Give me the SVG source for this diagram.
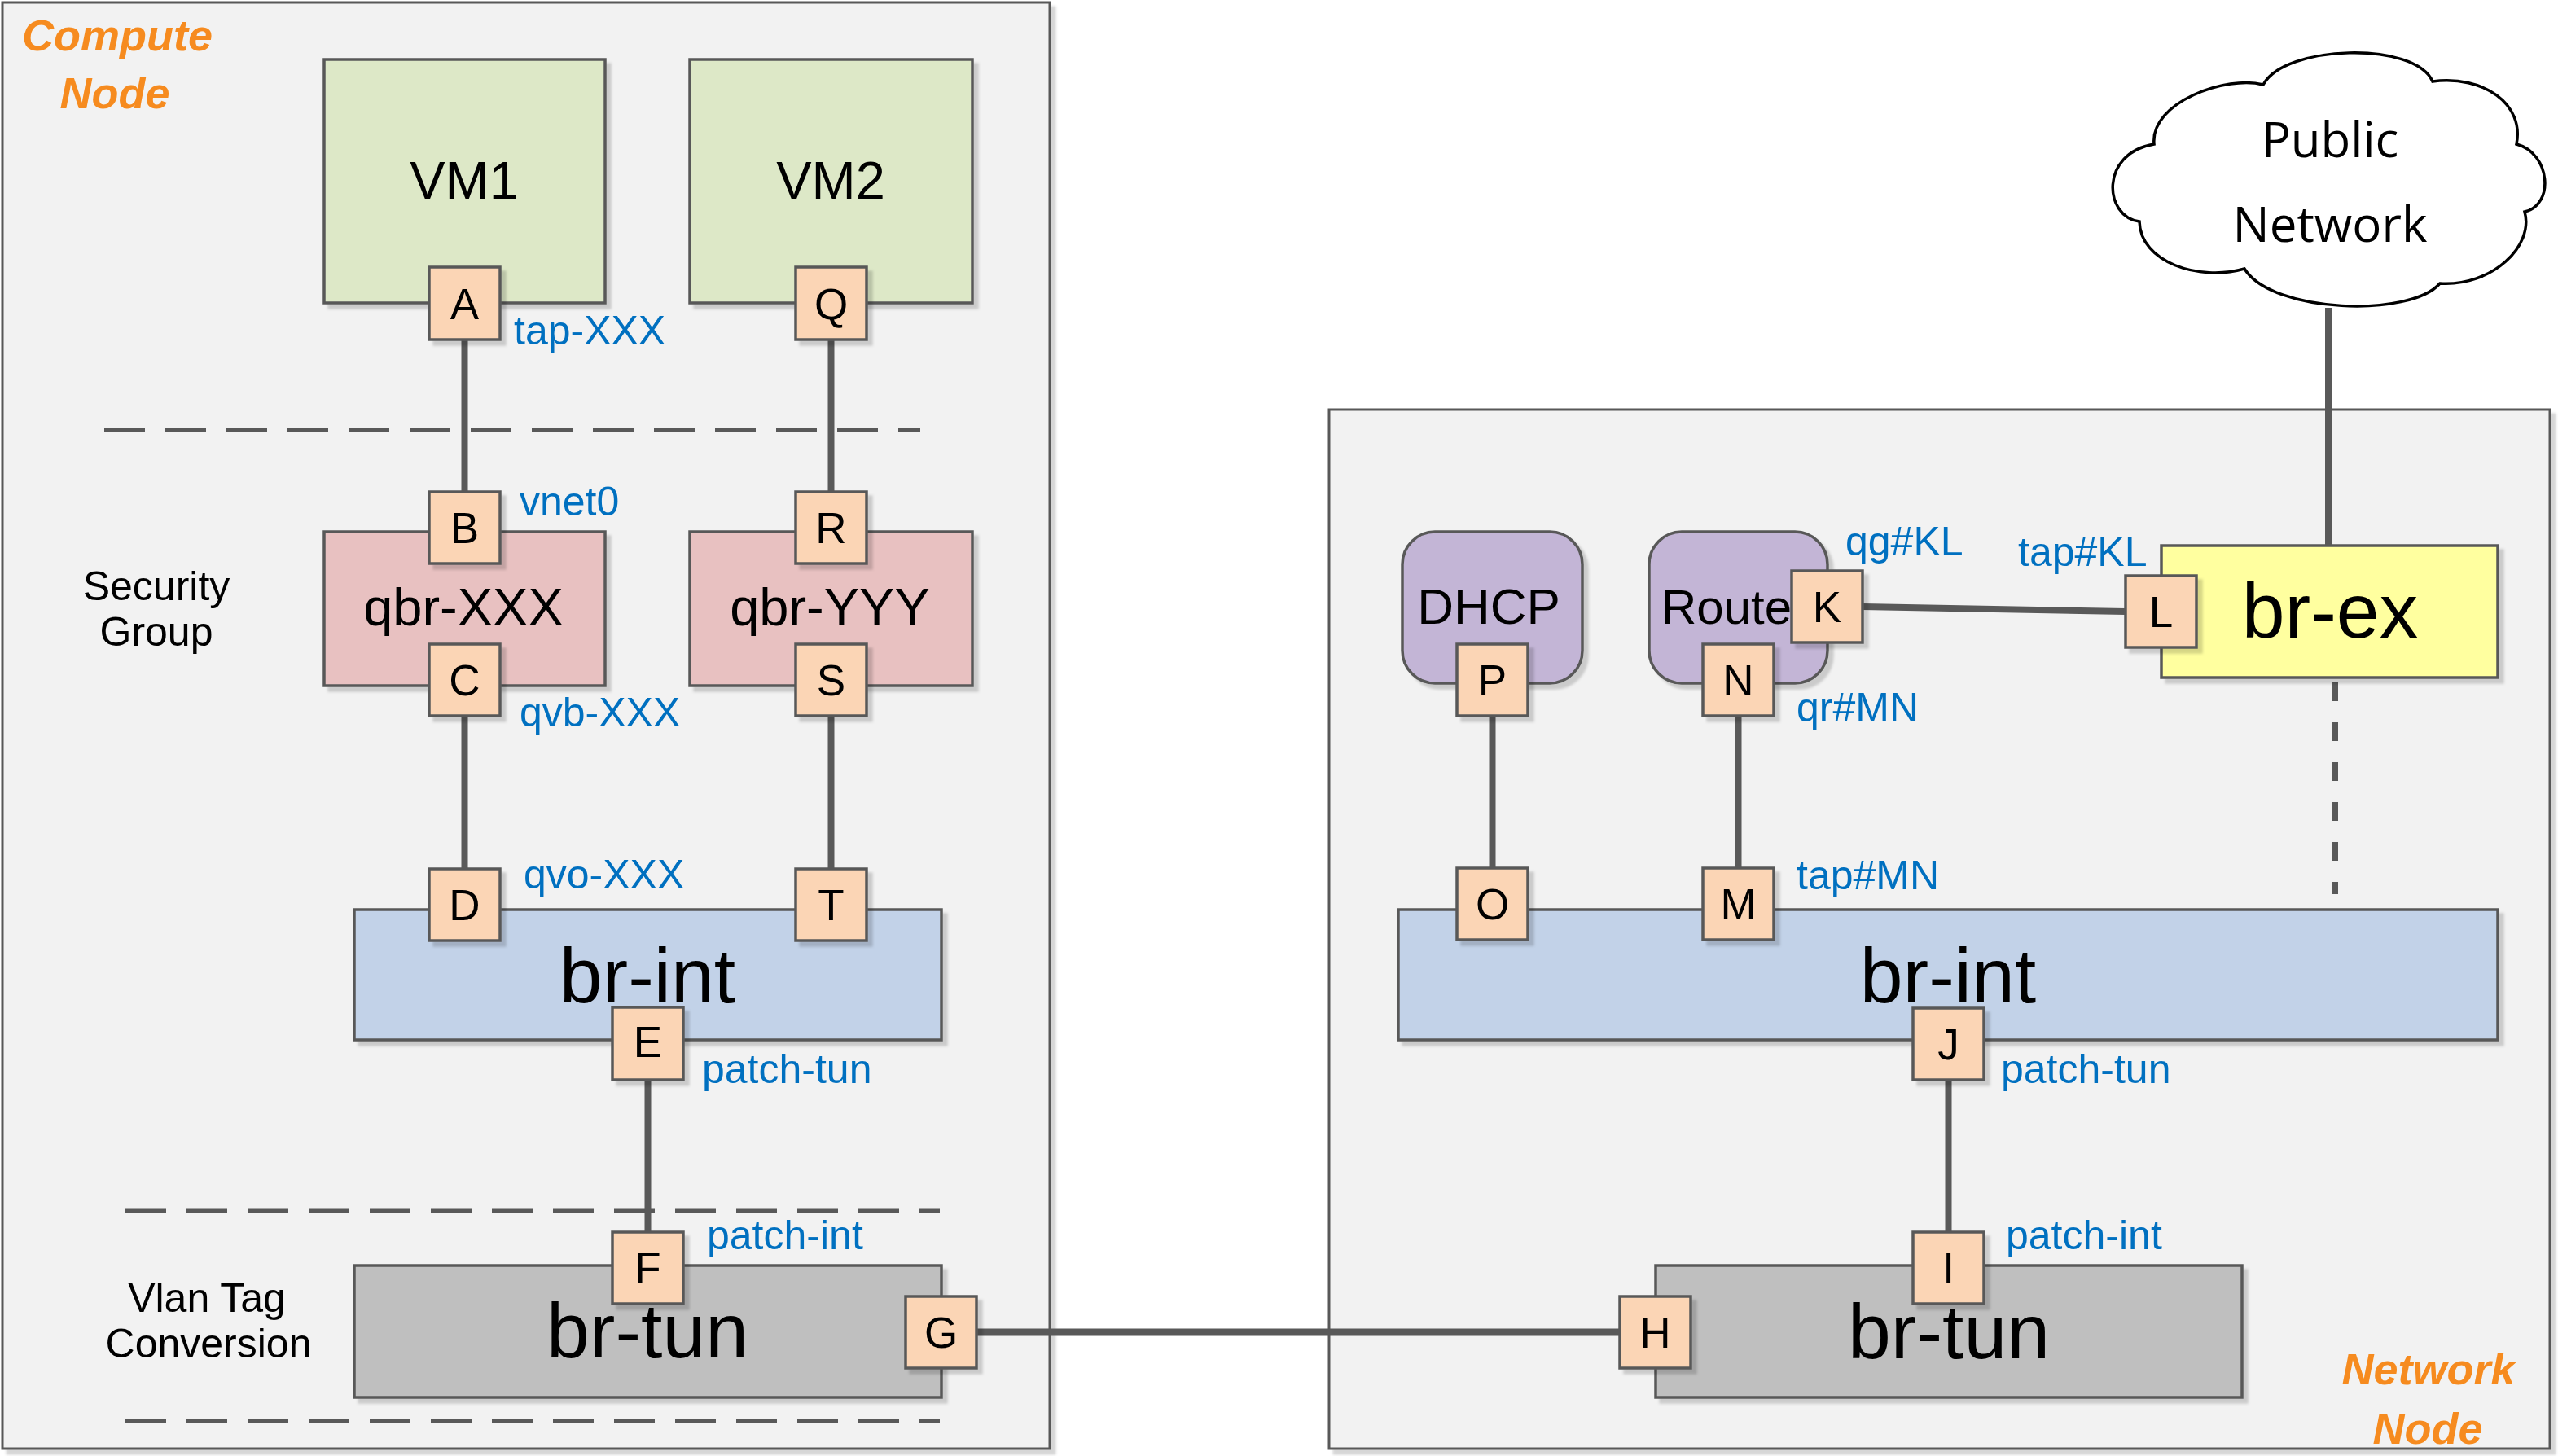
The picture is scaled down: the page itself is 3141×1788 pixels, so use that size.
<svg xmlns="http://www.w3.org/2000/svg" width="3141" height="1788" viewBox="0 0 3141 1788">
<defs>
<filter id="sh" x="-10%" y="-10%" width="125%" height="125%"><feDropShadow dx="6" dy="6" stdDeviation="1.5" flood-color="#000" flood-opacity="0.16"/></filter>
<style>
.cont{fill:#F2F2F2;stroke:#595959;stroke-width:3;filter:url(#sh)}
.box{stroke:#595959;stroke-width:3.5;filter:url(#sh)}
.vm{fill:#DDE8C7}
.qbr{fill:#E8C1C1}
.bint{fill:#C2D2E8}
.btun{fill:#BFBFBF}
.bex{fill:#FFFF9F}
.svc{fill:#C3B5D6}
.port{fill:#FBD5B5;stroke:#595959;stroke-width:3.5;filter:url(#sh)}
text{font-family:"Liberation Sans",Arial,sans-serif;fill:#000}
.pl{font-size:53px;text-anchor:middle}
.big{font-size:95px;text-anchor:middle}
.mid{font-size:65px;text-anchor:middle}
.blue{font-size:50px;fill:#0070C0}
.side{font-size:50px;text-anchor:middle}
.org{font-size:54px;font-weight:bold;font-style:italic;fill:#F68B1F;text-anchor:middle}
.cloud{font-family:"Open Sans","DejaVu Sans",sans-serif;font-size:60px;text-anchor:middle}
.ln{stroke:#595959;stroke-width:8;fill:none}
.dash{stroke:#595959;stroke-width:5;stroke-dasharray:50 25;fill:none}
</style>
</defs>
<rect width="3141" height="1788" fill="#FFFFFF"/>

<g id="compute-node">
<rect class="cont" x="3" y="3" width="1286" height="1776"/>
<text class="org" x="144" y="62">Compute</text>
<text class="org" x="141" y="133">Node</text>
</g>
<g id="network-node">
<rect class="cont" x="1632" y="503" width="1499" height="1276"/>
<text class="org" x="2982" y="1700">Network</text>
<text class="org" x="2981" y="1773">Node</text>
</g>

<g id="separators">
<line class="dash" x1="128" y1="528" x2="1130" y2="528"/>
<line class="dash" x1="154" y1="1487" x2="1154" y2="1487"/>
<line class="dash" x1="154" y1="1745" x2="1154" y2="1745"/>
<text class="side" x="192" y="737">Security</text>
<text class="side" x="192" y="793">Group</text>
<text class="side" x="254" y="1611">Vlan Tag</text>
<text class="side" x="256" y="1667">Conversion</text>
</g>

<g id="connectors">
<line class="ln" x1="570.5" y1="417" x2="570.5" y2="604"/>
<line class="ln" x1="1020.5" y1="417" x2="1020.5" y2="604"/>
<line class="ln" x1="570.5" y1="879" x2="570.5" y2="1067"/>
<line class="ln" x1="1020.5" y1="879" x2="1020.5" y2="1067"/>
<line class="ln" x1="795.5" y1="1325" x2="795.5" y2="1513"/>
<line class="ln" x1="1199" y1="1636" x2="1989" y2="1636" style="stroke-width:9"/>
<line class="ln" x1="2392.5" y1="1326" x2="2392.5" y2="1513"/>
<line class="ln" x1="1832.5" y1="879" x2="1832.5" y2="1066"/>
<line class="ln" x1="2134.5" y1="879" x2="2134.5" y2="1066"/>
<line class="ln" x1="2287" y1="745" x2="2610" y2="751"/>
<line class="ln" x1="2859" y1="378" x2="2859" y2="670"/>
<line class="ln" x1="2867" y1="838" x2="2867" y2="1098" style="stroke-dasharray:23 26"/>
</g>

<g id="vm1">
<rect class="box vm" x="398" y="73" width="345" height="299"/>
<text class="mid" x="570" y="244">VM1</text>
</g>
<g id="vm2">
<rect class="box vm" x="847" y="73" width="347" height="299"/>
<text class="mid" x="1020" y="244">VM2</text>
</g>
<g id="qbr-xxx">
<rect class="box qbr" x="398" y="653" width="345" height="189"/>
<text class="mid" x="569" y="768">qbr-XXX</text>
</g>
<g id="qbr-yyy">
<rect class="box qbr" x="847" y="653" width="347" height="189"/>
<text class="mid" x="1019" y="768">qbr-YYY</text>
</g>
<g id="br-int-compute">
<rect class="box bint" x="435" y="1117" width="721" height="160"/>
<text class="big" x="795" y="1231">br-int</text>
</g>
<g id="br-tun-compute">
<rect class="box btun" x="435" y="1554" width="721" height="162"/>
<text class="big" x="795" y="1667">br-tun</text>
</g>
<g id="br-int-network">
<rect class="box bint" x="1717" y="1117" width="1350" height="160"/>
<text class="big" x="2392" y="1231">br-int</text>
</g>
<g id="br-tun-network">
<rect class="box btun" x="2033" y="1554" width="720" height="162"/>
<text class="big" x="2393" y="1668">br-tun</text>
</g>
<g id="br-ex">
<rect class="box bex" x="2654" y="670" width="413" height="162"/>
<text class="big" x="2861" y="783">br-ex</text>
</g>
<g id="dhcp">
<rect class="box svc" x="1722" y="653" width="221" height="186" rx="40"/>
<text class="mid" x="1828" y="766" style="font-size:62px">DHCP</text>
</g>
<g id="router">
<rect class="box svc" x="2025" y="653" width="219" height="186" rx="40"/>
<text x="2040" y="766" style="font-size:60px">Route</text>
</g>
<g id="public-network">
<path d="M 2645,177 C 2640,125 2735,92 2779,104 C 2805,55 2965,50 2987,100 C 3050,92 3100,128 3090,177 C 3132,188 3137,252 3100,260 C 3112,302 3060,352 2996,348 C 2960,390 2790,385 2756,330 C 2700,346 2628,322 2627,272 C 2583,266 2578,188 2645,177 Z" fill="#FFFFFF" stroke="#000" stroke-width="3.5"/>
<text class="cloud" x="2861" y="193">Public</text>
<text class="cloud" x="2861" y="297">Network</text>
</g>

<g id="port-A"><rect class="port" x="527" y="328" width="87" height="89"/><text class="pl" x="570.5" y="392">A</text></g>
<g id="port-Q"><rect class="port" x="977" y="328" width="87" height="89"/><text class="pl" x="1020.5" y="392">Q</text></g>
<g id="port-B"><rect class="port" x="527" y="604" width="87" height="88"/><text class="pl" x="570.5" y="667">B</text></g>
<g id="port-R"><rect class="port" x="977" y="604" width="87" height="88"/><text class="pl" x="1020.5" y="667">R</text></g>
<g id="port-C"><rect class="port" x="527" y="791" width="87" height="88"/><text class="pl" x="570.5" y="854">C</text></g>
<g id="port-S"><rect class="port" x="977" y="791" width="87" height="88"/><text class="pl" x="1020.5" y="854">S</text></g>
<g id="port-D"><rect class="port" x="527" y="1067" width="87" height="88"/><text class="pl" x="570.5" y="1130">D</text></g>
<g id="port-T"><rect class="port" x="977" y="1067" width="87" height="88"/><text class="pl" x="1020.5" y="1130">T</text></g>
<g id="port-E"><rect class="port" x="752" y="1237" width="87" height="89"/><text class="pl" x="795.5" y="1298">E</text></g>
<g id="port-F"><rect class="port" x="752" y="1513" width="87" height="88"/><text class="pl" x="795.5" y="1576">F</text></g>
<g id="port-G"><rect class="port" x="1112" y="1592" width="87" height="88"/><text class="pl" x="1155.5" y="1655">G</text></g>
<g id="port-H"><rect class="port" x="1989" y="1592" width="87" height="88"/><text class="pl" x="2032.5" y="1655">H</text></g>
<g id="port-I"><rect class="port" x="2349" y="1513" width="87" height="88"/><text class="pl" x="2392.5" y="1576">I</text></g>
<g id="port-J"><rect class="port" x="2349" y="1238" width="87" height="88"/><text class="pl" x="2392.5" y="1301">J</text></g>
<g id="port-O"><rect class="port" x="1789" y="1066" width="87" height="88"/><text class="pl" x="1832.5" y="1129">O</text></g>
<g id="port-M"><rect class="port" x="2091" y="1066" width="87" height="88"/><text class="pl" x="2134.5" y="1129">M</text></g>
<g id="port-P"><rect class="port" x="1789" y="791" width="87" height="88"/><text class="pl" x="1832.5" y="854">P</text></g>
<g id="port-N"><rect class="port" x="2091" y="791" width="87" height="88"/><text class="pl" x="2134.5" y="854">N</text></g>
<g id="port-K"><rect class="port" x="2200" y="701" width="87" height="88"/><text class="pl" x="2243.5" y="764">K</text></g>
<g id="port-L"><rect class="port" x="2610" y="707" width="87" height="88"/><text class="pl" x="2653.5" y="770">L</text></g>

<g id="port-labels">
<text class="blue" x="631" y="423">tap-XXX</text>
<text class="blue" x="638" y="633">vnet0</text>
<text class="blue" x="638" y="892">qvb-XXX</text>
<text class="blue" x="643" y="1091">qvo-XXX</text>
<text class="blue" x="862" y="1330">patch-tun</text>
<text class="blue" x="868" y="1534">patch-int</text>
<text class="blue" x="2266" y="682">qg#KL</text>
<text class="blue" x="2478" y="695">tap#KL</text>
<text class="blue" x="2206" y="886">qr#MN</text>
<text class="blue" x="2206" y="1092">tap#MN</text>
<text class="blue" x="2457" y="1330">patch-tun</text>
<text class="blue" x="2463" y="1534">patch-int</text>
</g>
</svg>
